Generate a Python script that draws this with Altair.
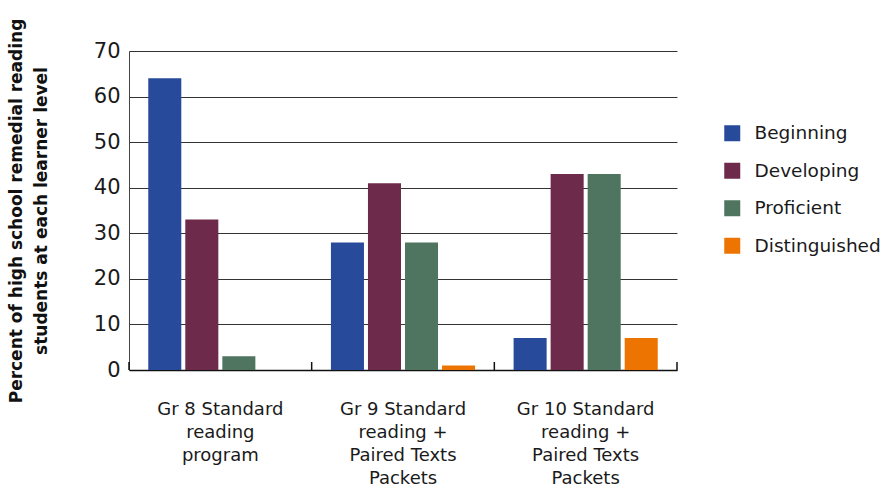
import altair as alt
import pandas as pd

# Program groups (each label line separated by "|")
groups = [
    "Gr 8 Standard|reading|program",
    "Gr 9 Standard|reading +|Paired Texts|Packets",
    "Gr 10 Standard|reading +|Paired Texts|Packets",
]
levels = ["Beginning", "Developing", "Proficient", "Distinguished"]
colors = ["#274a9a", "#6e2a4b", "#4f7460", "#ee7402"]

# Percent of students at each learner level, per program
beginning = [64, 28, 7]
developing = [33, 41, 43]
proficient = [3, 28, 43]
distinguished = [0, 1, 7]

series = [beginning, developing, proficient, distinguished]
rows = []
for lvl, vals in zip(levels, series):
    for g, v in zip(groups, vals):
        rows.append({"group": g, "level": lvl, "value": v})
df = pd.DataFrame(rows)
ticks_df = pd.DataFrame({"group": groups})

W, H = 548, 319
FONT = "DejaVu Sans"

x_enc = alt.X(
    "group:N",
    sort=groups,
    scale=alt.Scale(paddingInner=0, paddingOuter=0),
    axis=alt.Axis(
        title=None,
        labelAngle=0,
        labelExpr="split(datum.value, '|')",
        labelFont=FONT,
        labelFontSize=18,
        labelColor="#1a1a1a",
        labelLineHeight=23,
        labelPadding=30,
        labelBaseline="top",
        ticks=False,
        domainColor="#111111",
        domainWidth=1.5,
        grid=False,
    ),
)

bars = alt.Chart(df).mark_bar().encode(
    x=x_enc,
    xOffset=alt.XOffset(
        "level:N",
        sort=levels,
        scale=alt.Scale(paddingInner=0.108, paddingOuter=0.52),
    ),
    y=alt.Y(
        "value:Q",
        scale=alt.Scale(domain=[0, 70], nice=False),
        axis=alt.Axis(
            values=[0, 10, 20, 30, 40, 50, 60, 70],
            title=[
                "Percent of high school remedial reading",
                "students at each learner level",
            ],
            titleFont=FONT,
            titleFontSize=17,
            titleFontWeight="bold",
            titleColor="#111111",
            titleLineHeight=25,
            titleX=-121,
            titleY=H / 2,
            titleAngle=-90,
            titleAlign="center",
            titleBaseline="top",
            labelFont=FONT,
            labelFontSize=21,
            labelColor="#1a1a1a",
            labelPadding=9,
            ticks=False,
            domainColor="#444444",
            gridColor="#333333",
            gridWidth=1,
        ),
    ),
    color=alt.Color(
        "level:N",
        sort=levels,
        scale=alt.Scale(domain=levels, range=colors),
        legend=alt.Legend(
            title=None,
            orient="none",
            legendX=594,
            legendY=73,
            padding=0,
            symbolType="square",
            symbolSize=256,
            symbolStrokeWidth=0,
            symbolOpacity=1,
            labelFont=FONT,
            labelFontSize=18.5,
            labelColor="#1a1a1a",
            labelOffset=13,
            rowPadding=18.5,
        ),
    ),
)

# Small upward tick marks at the group boundaries on the category axis
tick_marks = alt.Chart(ticks_df).mark_rule(color="#111111", strokeWidth=1.5).encode(
    x=alt.X("group:N", sort=groups, bandPosition=0),
    y=alt.value(H),
    y2=alt.value(H - 8),
)
end_tick = alt.Chart(ticks_df.head(1)).mark_rule(color="#111111", strokeWidth=1.5).encode(
    x=alt.value(W),
    y=alt.value(H),
    y2=alt.value(H - 8),
)

chart = (
    alt.layer(bars, tick_marks, end_tick)
    .properties(
        width=W,
        height=H,
        autosize=alt.AutoSizeParams(type="none"),
        padding={"left": 129, "top": 51, "right": 212, "bottom": 117},
        background="white",
    )
    .configure_view(stroke=None)
)

chart.save("out.html", embed_options={"renderer": "svg", "actions": False})
